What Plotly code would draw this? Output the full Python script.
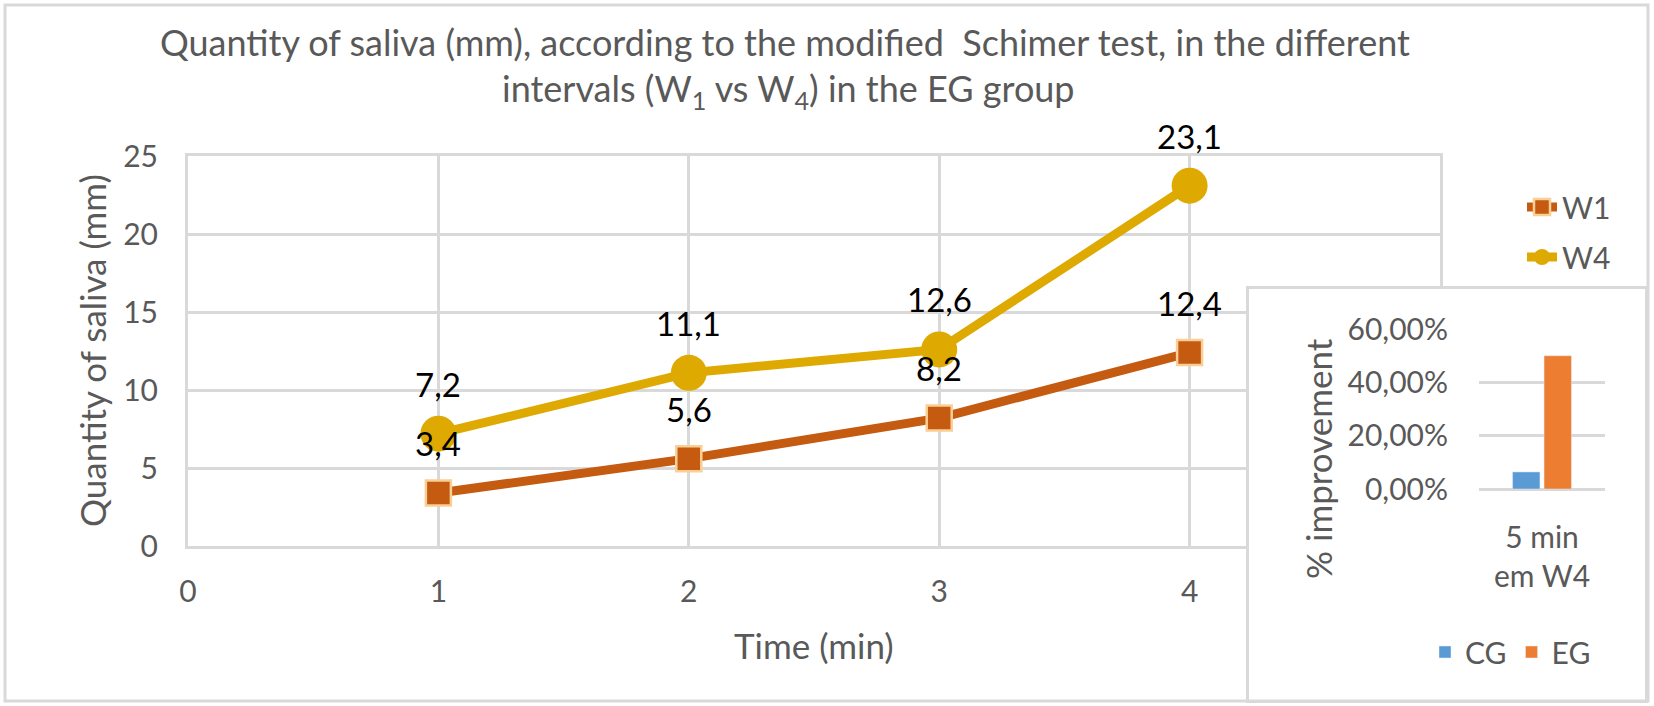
import plotly.graph_objects as go

# ---- data ----
time_min = [1, 2, 3, 4]
w1_values = [3.4, 5.6, 8.2, 12.4]
w4_values = [7.2, 11.1, 12.6, 23.1]
x_ticks = [0, 1, 2, 3, 4]
y_ticks = [0, 5, 10, 15, 20, 25]

inset_category = ["5 min<br>em W4"]
cg_improvement = [0.064]
eg_improvement = [0.50]
inset_ticks = [0, 0.2, 0.4, 0.6]

title_line1 = "Quantity of saliva (mm), according to the modified  Schimer test, in the different"
title_line2 = "intervals (W<sub>1</sub> vs W<sub>4</sub>) in the EG group"

# ---- style ----
W, H = 1654, 706
FONT = "Lato"
GRAY = "#595959"
GRID = "#D9D9D9"
C_W1 = "#C55A11"
C_W1_EDGE = "#F9CF95"
C_W4 = "#DEA900"
C_CG = "#5B9BD5"
C_EG = "#ED7D31"


def px_x(p):
    return p / W


def px_y(p):
    return 1 - p / H


fig = go.Figure()

fig.add_trace(go.Scatter(
    x=time_min, y=w1_values, name="W1", mode="lines+markers",
    line=dict(color=C_W1, width=9),
    marker=dict(symbol="square", size=25, color=C_W1,
                line=dict(color=C_W1_EDGE, width=2.5)),
    legendgroup="a", hoverinfo="x+y",
))
fig.add_trace(go.Scatter(
    x=time_min, y=w4_values, name="W4", mode="lines+markers",
    line=dict(color=C_W4, width=9),
    marker=dict(symbol="circle", size=36, color=C_W4),
    legendgroup="b", hoverinfo="x+y",
))

# cover panel for inset (own subplot so its background hides the main grid)
fig.add_trace(go.Scatter(x=[None], y=[None], xaxis="x2", yaxis="y2",
                         showlegend=False, hoverinfo="skip"))

fig.add_trace(go.Bar(name="CG", x=inset_category, y=cg_improvement,
                     marker_color=C_CG, xaxis="x3", yaxis="y3",
                     legend="legend2"))
fig.add_trace(go.Bar(name="EG", x=inset_category, y=eg_improvement,
                     marker_color=C_EG, xaxis="x3", yaxis="y3",
                     legend="legend2"))

annotations = []
for series in (w4_values, w1_values):
    for t, v in zip(time_min, series):
        annotations.append(dict(
            x=t, y=v, xref="x", yref="y", showarrow=False,
            text=f"{v:.1f}".replace(".", ","), yshift=50,
            font=dict(family=FONT, size=33, color="black"),
            xanchor="center", yanchor="middle"))

annotations += [
    dict(x=px_x(785), y=px_y(42), xref="paper", yref="paper", showarrow=False,
         text=title_line1, font=dict(family=FONT, size=36, color=GRAY),
         xanchor="center", yanchor="middle"),
    dict(x=px_x(788), y=px_y(90), xref="paper", yref="paper", showarrow=False,
         text=title_line2, font=dict(family=FONT, size=36, color=GRAY),
         xanchor="center", yanchor="middle"),
    dict(x=px_x(92), y=px_y(351), xref="paper", yref="paper", showarrow=False,
         text="Quantity of saliva (mm)", textangle=-90,
         font=dict(family=FONT, size=35, color=GRAY),
         xanchor="center", yanchor="middle"),
    dict(x=px_x(814), y=px_y(645), xref="paper", yref="paper", showarrow=False,
         text="Time (min)", font=dict(family=FONT, size=35, color=GRAY),
         xanchor="center", yanchor="middle"),
    dict(x=px_x(1318), y=px_y(459), xref="paper", yref="paper", showarrow=False,
         text="% improvement", textangle=-90,
         font=dict(family=FONT, size=35, color=GRAY),
         xanchor="center", yanchor="middle"),
]

fig.update_layout(
    width=W, height=H,
    margin=dict(l=0, r=0, t=0, b=0, autoexpand=False),
    paper_bgcolor="white", plot_bgcolor="white",
    separators=",.",
    font=dict(family=FONT, color=GRAY),
    barmode="group", bargap=0.5, bargroupgap=0.13,
    xaxis=dict(domain=[px_x(188), px_x(1440)], range=[0, 5],
               tickvals=x_ticks, showgrid=True, gridcolor=GRID, gridwidth=3,
               showline=True, linecolor=GRID, linewidth=3, mirror=True,
               zeroline=False, ticks="", ticklabelstandoff=17,
               tickfont=dict(family=FONT, size=30, color=GRAY),
               anchor="y", fixedrange=True),
    yaxis=dict(domain=[px_y(546), px_y(156)], range=[0, 25],
               tickvals=y_ticks, showgrid=True, gridcolor=GRID, gridwidth=3,
               showline=True, linecolor=GRID, linewidth=3, mirror=True,
               zeroline=False, ticks="", ticklabelstandoff=21,
               tickfont=dict(family=FONT, size=30, color=GRAY),
               anchor="x", fixedrange=True),
    xaxis2=dict(domain=[px_x(1249), px_x(1645)], range=[0, 1], anchor="y2",
                showgrid=False, zeroline=False, showticklabels=False,
                showline=True, mirror=True, linecolor=GRID, linewidth=3,
                ticks="", fixedrange=True),
    yaxis2=dict(domain=[px_y(700), px_y(289)], range=[0, 1], anchor="x2",
                showgrid=False, zeroline=False, showticklabels=False,
                showline=True, mirror=True, linecolor=GRID, linewidth=3,
                ticks="", fixedrange=True),
    xaxis3=dict(domain=[px_x(1479), px_x(1605)], anchor="y3",
                showgrid=False, zeroline=False, showline=False, ticks="",
                ticklabelstandoff=28,
                tickfont=dict(family=FONT, size=30, color=GRAY),
                fixedrange=True),
    yaxis3=dict(domain=[px_y(489), px_y(329)], range=[0, 0.6005], anchor="x3",
                tickvals=inset_ticks, tickformat=".2%",
                showgrid=True, gridcolor=GRID, gridwidth=3,
                zeroline=True, zerolinecolor=GRID, zerolinewidth=3,
                showline=False, ticks="", ticklabelstandoff=30,
                tickfont=dict(family=FONT, size=30, color=GRAY),
                fixedrange=True),
    legend=dict(x=px_x(1522), y=px_y(181), xanchor="left", yanchor="top",
                orientation="v", traceorder="grouped", tracegroupgap=8,
                bgcolor="rgba(0,0,0,0)",
                font=dict(family=FONT, size=30, color=GRAY)),
    legend2=dict(x=px_x(1425), y=px_y(652), xanchor="left", yanchor="middle",
                 orientation="h", bgcolor="rgba(0,0,0,0)",
                 font=dict(family=FONT, size=30, color=GRAY)),
    annotations=annotations,
    shapes=[dict(type="rect", xref="paper", yref="paper",
                 x0=px_x(5), x1=px_x(1648), y0=px_y(701), y1=px_y(5),
                 line=dict(color=GRID, width=3), fillcolor="rgba(0,0,0,0)")],
    showlegend=True,
)

fig.write_html(
    "out.html",
    config={"displayModeBar": False},
    post_script="document.body.style.margin='0';document.body.style.overflow='hidden';",
)
